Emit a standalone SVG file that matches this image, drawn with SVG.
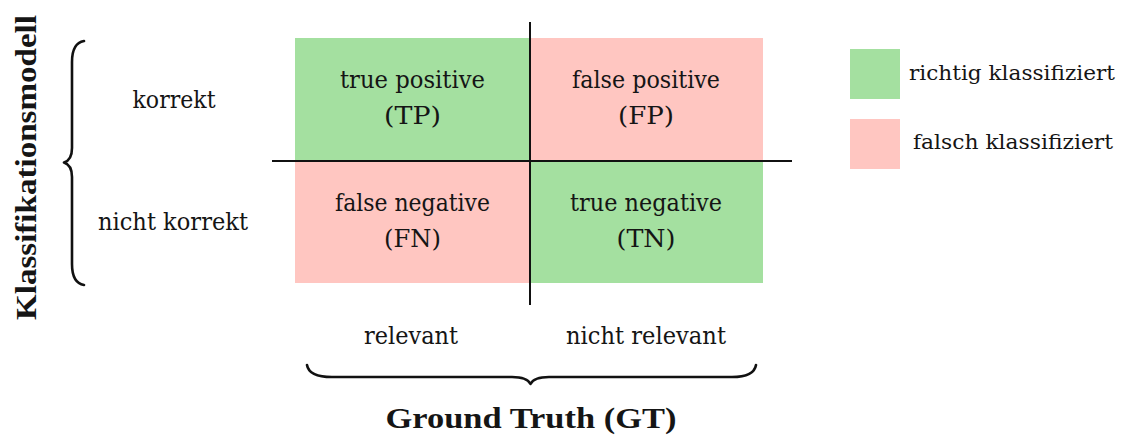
<svg xmlns="http://www.w3.org/2000/svg" width="1127" height="436" viewBox="0 0 1127 436">
<style>
.t{font-family:"DejaVu Serif","Liberation Serif",serif;font-size:23.5px;fill:#151515;text-anchor:middle}
.s{text-anchor:start;font-size:20.5px}
.b{font-family:"Liberation Serif","DejaVu Serif",serif;font-size:29px;font-weight:bold;fill:#151515;text-anchor:middle}
.g{fill:#a4e0a0}
.r{fill:#ffc6c1}
.ln{stroke:#111;stroke-width:2;fill:none}
.br{stroke:#111;stroke-width:2.6;fill:none;stroke-linecap:round;stroke-linejoin:round}
</style>
<rect width="1127" height="436" fill="#fff"/>
<g id="tp"><rect class="g" x="295" y="38" width="235" height="123"/><text class="t" x="412.5" y="88" textLength="145" lengthAdjust="spacingAndGlyphs">true positive</text><text class="t" x="412.5" y="124" textLength="57" lengthAdjust="spacingAndGlyphs">(TP)</text></g>
<g id="fp"><rect class="r" x="530" y="38" width="233" height="123"/><text class="t" x="646" y="88" textLength="148" lengthAdjust="spacingAndGlyphs">false positive</text><text class="t" x="646" y="124" textLength="56" lengthAdjust="spacingAndGlyphs">(FP)</text></g>
<g id="fn"><rect class="r" x="295" y="161" width="235" height="122"/><text class="t" x="412.5" y="211" textLength="155" lengthAdjust="spacingAndGlyphs">false negative</text><text class="t" x="412.5" y="247" textLength="57" lengthAdjust="spacingAndGlyphs">(FN)</text></g>
<g id="tn"><rect class="g" x="530" y="161" width="233" height="122"/><text class="t" x="646" y="211" textLength="152" lengthAdjust="spacingAndGlyphs">true negative</text><text class="t" x="646" y="247" textLength="59" lengthAdjust="spacingAndGlyphs">(TN)</text></g>
<g id="connectors">
<line class="ln" x1="272" y1="161" x2="792" y2="161"/>
<line class="ln" x1="530" y1="22" x2="530" y2="305"/>
<path class="br" d="M84,41 Q72,43 72,62 L72,148 Q72,160 64,162.5 Q72,165 72,177 L72,264 Q72,283 84,285"/>
<path class="br" d="M307,365 Q309,377 332,377 L512,377 Q527,377 530.5,384 Q534,377 549,377 L732,377 Q754,377 756,365"/>
</g>
<g id="rowlabels"><text class="t" x="174" y="108" textLength="83" lengthAdjust="spacingAndGlyphs">korrekt</text><text class="t" x="173" y="230" textLength="150" lengthAdjust="spacingAndGlyphs">nicht korrekt</text></g>
<g id="collabels"><text class="t" x="411" y="344" textLength="94" lengthAdjust="spacingAndGlyphs">relevant</text><text class="t" x="646" y="344" textLength="160" lengthAdjust="spacingAndGlyphs">nicht relevant</text></g>
<g id="ylabel"><text class="b" transform="translate(36,167.5) rotate(-90)" textLength="305" lengthAdjust="spacingAndGlyphs">Klassifikationsmodell</text></g>
<g id="xlabel"><text class="b" x="531" y="428" textLength="291" lengthAdjust="spacingAndGlyphs">Ground Truth (GT)</text></g>
<g id="legend">
<rect class="g" x="850" y="49" width="50" height="50"/><text class="t s" x="909" y="80" textLength="206" lengthAdjust="spacingAndGlyphs">richtig klassifiziert</text>
<rect class="r" x="850" y="119" width="50" height="50"/><text class="t s" x="913" y="149" textLength="200" lengthAdjust="spacingAndGlyphs">falsch klassifiziert</text>
</g>
</svg>
